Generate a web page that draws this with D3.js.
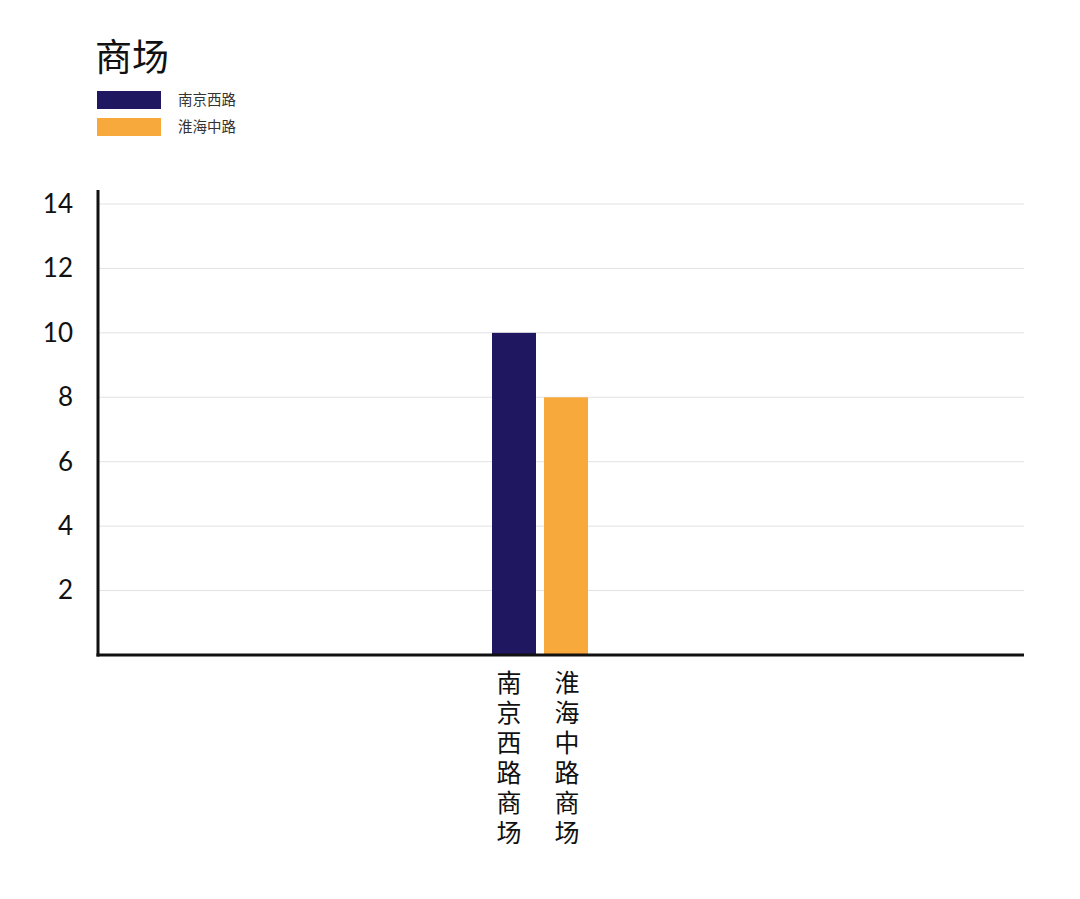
<!DOCTYPE html>
<html>
<head>
<meta charset="utf-8">
<script src="https://cdn.jsdelivr.net/npm/d3@7"></script>
<style>
  body { margin: 0; background: #fff; }
  text { font-family: Lato, "Noto Sans CJK SC", sans-serif; }
</style>
</head>
<body>
<svg id="chart" width="1080" height="899"></svg>
<script>
// data
var categories = ['南京西路商场', '淮海中路商场'];
var values = [10, 8];
var seriesNames = ['南京西路', '淮海中路'];
var yTicks = [2, 4, 6, 8, 10, 12, 14];
var colors = ['#1f1760', '#f8a93c'];

var svg = d3.select('#chart');

// scales
var x = d3.scaleBand().domain(categories).range([492, 588]).paddingInner(8 / 52);
var y = d3.scaleLinear().domain([0, 14]).range([655, 204]);

// title
svg.append('text')
  .attr('x', 95).attr('y', 71)
  .style('font-family', '"Noto Sans CJK SC", sans-serif')
  .style('font-size', '37px')
  .attr('fill', '#111')
  .text('商场');

// legend
var legend = svg.selectAll('.legend')
  .data(seriesNames)
  .enter().append('g')
  .attr('class', 'legend')
  .attr('transform', function(d, i){ return 'translate(97,' + (91 + i * 27) + ')'; });

legend.append('rect')
  .attr('width', 64).attr('height', 18)
  .attr('fill', function(d, i){ return colors[i]; });

legend.append('text')
  .attr('x', 81).attr('y', 14)
  .style('font-family', '"Noto Sans CJK SC", sans-serif')
  .style('font-size', '14.5px')
  .attr('fill', '#333')
  .text(function(d){ return d; });

// gridlines
svg.selectAll('.grid')
  .data(yTicks)
  .enter().append('line')
  .attr('class', 'grid')
  .attr('x1', 98).attr('x2', 1024)
  .attr('y1', function(d){ return y(d); })
  .attr('y2', function(d){ return y(d); })
  .attr('stroke', '#e2e2e2')
  .attr('stroke-width', 1);

// y axis
var yAxis = d3.axisLeft(y).tickValues(yTicks).tickSize(0).tickPadding(25);
var gy = svg.append('g').attr('transform', 'translate(98,0)').call(yAxis);
gy.select('.domain').remove();
gy.selectAll('text')
  .style('font-family', 'Lato, sans-serif')
  .style('font-size', '26px')
  .attr('fill', '#111');

svg.append('line')
  .attr('x1', 98).attr('x2', 98)
  .attr('y1', 190).attr('y2', y(0) + 1.5)
  .attr('stroke', '#111').attr('stroke-width', 3);

// bars
svg.selectAll('.bar')
  .data(values)
  .enter().append('rect')
  .attr('class', 'bar')
  .attr('x', function(d, i){ return x(categories[i]); })
  .attr('width', x.bandwidth())
  .attr('y', function(d){ return y(d); })
  .attr('height', function(d){ return y(0) - y(d); })
  .attr('fill', function(d, i){ return colors[i]; });

// x axis line
svg.append('line')
  .attr('x1', 96.5).attr('x2', 1024)
  .attr('y1', y(0)).attr('y2', y(0))
  .attr('stroke', '#111').attr('stroke-width', 3);

// vertical category labels, one character per line
categories.forEach(function(cat, i){
  var cx = x(cat) + x.bandwidth() / 2 + (i === 0 ? -5 : 1);
  svg.selectAll('.xlabel' + i)
    .data(cat.split(''))
    .enter().append('text')
    .attr('class', 'xlabel' + i)
    .attr('x', cx)
    .attr('y', function(c, j){ return 692 + j * 30; })
    .attr('text-anchor', 'middle')
    .style('font-family', 'Lato, "Noto Sans CJK SC", sans-serif')
    .style('font-size', '25px')
    .attr('fill', '#111')
    .text(function(c){ return c; });
});
</script>
</body>
</html>
